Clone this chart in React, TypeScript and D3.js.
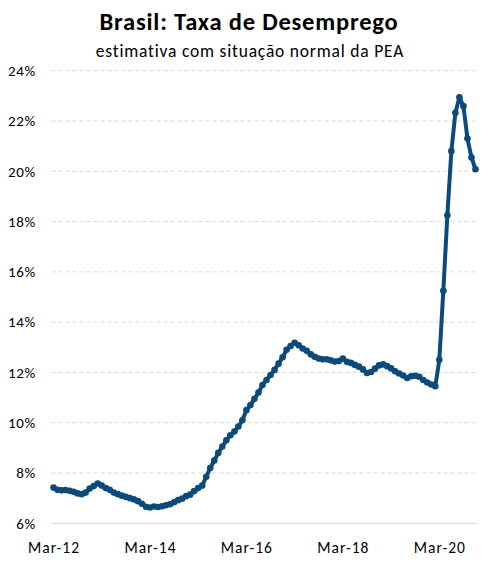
import React, { useEffect, useRef } from 'react';
import * as d3 from 'd3';

// Monthly unemployment estimate, Mar-12 .. Dec-20 (%)
const startYear = 2012;
const startMonth = 2; // March (0-based)
const values: number[] = [
  7.42, 7.33, 7.31, 7.32, 7.29, 7.25, 7.19, 7.16, 7.22, 7.38, 7.48, 7.58,
  7.5, 7.4, 7.33, 7.22, 7.16, 7.1, 7.05, 7.0, 6.95, 6.88, 6.78, 6.66,
  6.63, 6.67, 6.65, 6.68, 6.72, 6.76, 6.84, 6.92, 6.98, 7.08, 7.14, 7.28,
  7.4, 7.5, 7.85, 8.2, 8.5, 8.8, 9.05, 9.3, 9.5, 9.65, 9.85, 10.1,
  10.5, 10.7, 10.95, 11.2, 11.5, 11.7, 11.9, 12.1, 12.35, 12.6, 12.9, 13.05,
  13.18, 13.08, 12.95, 12.86, 12.72, 12.62, 12.55, 12.52, 12.52, 12.48, 12.43, 12.45,
  12.55, 12.42, 12.38, 12.3, 12.23, 12.12, 11.98, 12.02, 12.15, 12.28, 12.32, 12.25,
  12.16, 12.05, 11.96, 11.88, 11.78, 11.85, 11.87, 11.83, 11.7, 11.6, 11.52, 11.45,
  12.5, 15.25, 18.25, 20.8, 22.33, 22.94, 22.59, 21.3, 20.55, 20.08,
];

const monthNames = ['Jan', 'Feb', 'Mar', 'Apr', 'May', 'Jun', 'Jul', 'Aug', 'Sep', 'Oct', 'Nov', 'Dec'];
const labels: string[] = values.map((_, i) => {
  const m = startMonth + i;
  const yr = startYear + Math.floor(m / 12);
  return `${monthNames[m % 12]}-${String(yr).slice(2)}`;
});

const yTicks = [6, 8, 10, 12, 14, 16, 18, 20, 22, 24];
const xTickEvery = 24;

const title = 'Brasil: Taxa de Desemprego';
const subtitle = 'estimativa com situação normal da PEA';

const lineColor = '#0b4a7a';
const font = 'Carlito, Calibri, Lato, "Open Sans", sans-serif';

const App: React.FC = () => {
  const svgRef = useRef<SVGSVGElement>(null);

  useEffect(() => {
    if (!svgRef.current) return;
    const svg = d3.select(svgRef.current);
    svg.selectAll('*').remove();

    const width = 489;
    const height = 567;

    // Plot area
    const plot = { left: 51.5, right: 477.5, top: 70.7, bottom: 523.3 };

    const x = d3
      .scaleLinear()
      .domain([-0.5, values.length - 0.5])
      .range([plot.left, plot.right]);

    const y = d3
      .scaleLinear()
      .domain([6, 24])
      .range([plot.bottom, plot.top]);

    svg.attr('width', width).attr('height', height);

    svg.append('rect').attr('width', width).attr('height', height).attr('fill', '#ffffff');

    // Title
    svg
      .append('text')
      .attr('x', 249)
      .attr('y', 30)
      .attr('text-anchor', 'middle')
      .attr('font-family', font)
      .attr('font-weight', 'bold')
      .attr('font-size', 24.5)
      .attr('letter-spacing', 0.8)
      .attr('fill', '#000')
      .text(title);

    svg
      .append('text')
      .attr('x', 250)
      .attr('y', 57)
      .attr('text-anchor', 'middle')
      .attr('font-family', font)
      .attr('font-size', 17.5)
      .attr('letter-spacing', 0.8)
      .attr('fill', '#000')
      .text(subtitle);

    // Gridlines
    svg
      .append('g')
      .selectAll('line')
      .data(yTicks.filter(t => t !== 6))
      .enter()
      .append('line')
      .attr('x1', plot.left)
      .attr('x2', plot.right)
      .attr('y1', d => y(d))
      .attr('y2', d => y(d))
      .attr('stroke', '#d9d9d9')
      .attr('stroke-width', 1)
      .attr('stroke-dasharray', '4,3');

    // X axis line
    svg
      .append('line')
      .attr('x1', plot.left)
      .attr('x2', plot.right)
      .attr('y1', y(6))
      .attr('y2', y(6))
      .attr('stroke', '#d9d9d9')
      .attr('stroke-width', 1);

    // Y labels
    svg
      .append('g')
      .selectAll('text')
      .data(yTicks)
      .enter()
      .append('text')
      .attr('x', 36)
      .attr('y', d => y(d))
      .attr('dy', '0.35em')
      .attr('text-anchor', 'end')
      .attr('font-family', font)
      .attr('font-size', 15)
      .attr('letter-spacing', 0.7)
      .attr('fill', '#000')
      .text(d => `${d}%`);

    // X labels
    const xIdx = values.map((_, i) => i).filter(i => i % xTickEvery === 0);
    svg
      .append('g')
      .selectAll('text')
      .data(xIdx)
      .enter()
      .append('text')
      .attr('x', d => x(d) + 0.5)
      .attr('y', 553)
      .attr('text-anchor', 'middle')
      .attr('font-family', font)
      .attr('font-size', 15.5)
      .attr('letter-spacing', 1)
      .attr('fill', '#000')
      .text(d => labels[d]);

    // Line
    const line = d3
      .line<number>()
      .x((_, i) => x(i))
      .y(d => y(d));

    svg
      .append('path')
      .datum(values)
      .attr('fill', 'none')
      .attr('stroke', lineColor)
      .attr('stroke-width', 4)
      .attr('stroke-linejoin', 'round')
      .attr('d', line);

    // Markers
    svg
      .append('g')
      .selectAll('circle')
      .data(values)
      .enter()
      .append('circle')
      .attr('cx', (_, i) => x(i))
      .attr('cy', d => y(d))
      .attr('r', 3.3)
      .attr('fill', lineColor);
  }, []);

  return (
    <div style={{ position: 'absolute', left: 0, top: 0 }}>
      <svg ref={svgRef}></svg>
    </div>
  );
};

export default App;
